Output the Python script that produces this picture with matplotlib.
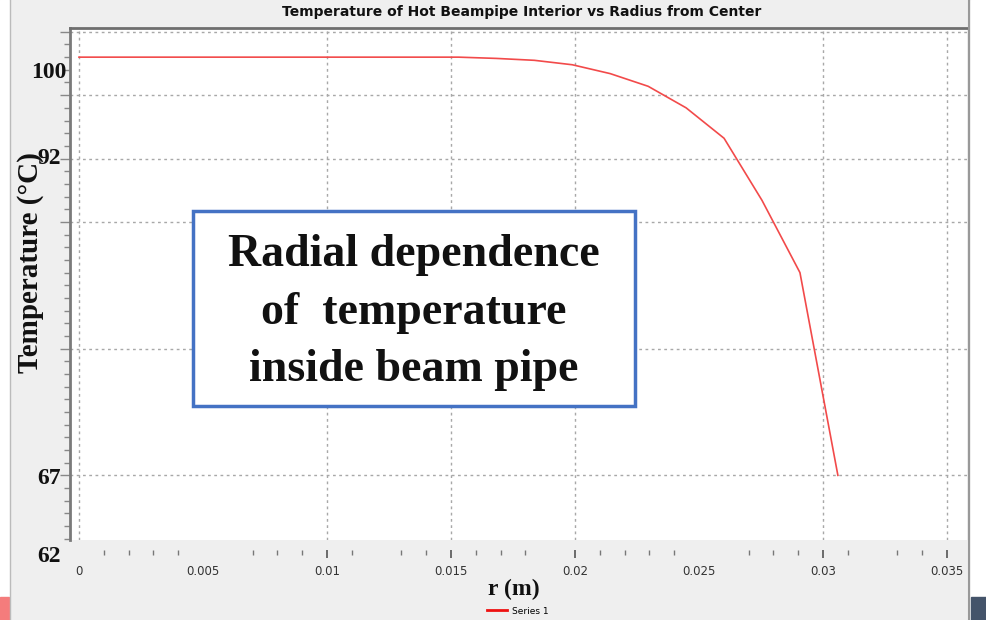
import numpy as np
import matplotlib
matplotlib.use("Agg")
import matplotlib.pyplot as plt
from matplotlib.patches import Rectangle
from matplotlib.lines import Line2D

# data
r_m = [0.0, 0.00153, 0.00306, 0.00459, 0.00612, 0.00765, 0.00918, 0.01071, 0.01224, 0.01377,
       0.0153, 0.01683, 0.01836, 0.01989, 0.02142, 0.02295, 0.02448, 0.02601, 0.02754, 0.02907, 0.0306]
temp_c = [100.0, 100.0, 100.0, 100.0, 100.0, 100.0, 100.0, 100.0, 100.0, 100.0,
          100.0, 99.9, 99.75, 99.4, 98.7, 97.7, 96.0, 93.6, 88.7, 83.0, 67.0]

x_grid = [0.0, 0.01, 0.015, 0.02, 0.03, 0.035]
x_major = [0.01, 0.015, 0.02, 0.03, 0.035]
x_minor = [0.001, 0.002, 0.003, 0.004, 0.007, 0.008, 0.009, 0.011, 0.013, 0.014,
           0.016, 0.017, 0.018, 0.021, 0.022, 0.023, 0.024, 0.027, 0.028, 0.029,
           0.031, 0.033, 0.034]
x_labels = [0, 0.005, 0.01, 0.015, 0.02, 0.025, 0.03, 0.035]
y_grid = [67, 77, 87, 92, 97, 102]
y_minor = [v for v in range(62, 103) if v not in y_grid]
y_labels = ["100", "92", "67", "62"]
y_label_vals = [100, 92, 67, 62]
y_label_shift = [-11, 0, -2, -13]  # points

W, H = 987, 620
fig = plt.figure(figsize=(W / 100, H / 100), dpi=100, facecolor="#efefef")


def fx(px):
    return px / W


def fy(py):
    return 1 - py / H


ax = fig.add_axes([fx(70), fy(540), fx(967) - fx(70), fy(28) - fy(540)])
ax.set_facecolor("white")
ax.set_xlim(-0.000363, 0.035806)
ax.set_ylim(61.9, 102.3)

for g in x_grid:
    ax.axvline(g, color="#a8a8a8", lw=1, ls=(0, (2, 2.5)), zorder=1)
for g in y_grid:
    ax.axhline(g, color="#a8a8a8", lw=1, ls=(0, (2, 2.5)), zorder=1)

ax.plot(r_m, temp_c, color="#f24a4a", lw=1.2, zorder=3, label="Series 1")

# spines
for s in ["right", "bottom"]:
    ax.spines[s].set_visible(False)
ax.spines["top"].set_color("#6e6e6e")
ax.spines["top"].set_linewidth(2)
ax.spines["left"].set_color("#7a7a7a")
ax.spines["left"].set_linewidth(2)
ax.spines["bottom"].set_position(("outward", 7))

ax.set_xticks(x_major)
ax.set_xticks(x_minor, minor=True)
ax.set_xticklabels([])
ax.tick_params(axis="x", which="major", length=6, width=1.2, color="#555555")
ax.tick_params(axis="x", which="minor", length=3.5, width=1, color="#777777")

ax.set_yticks(y_grid)
ax.set_yticks(y_minor, minor=True)
ax.set_yticklabels([])
ax.tick_params(axis="y", which="major", length=7, width=1, color="#888888")
ax.tick_params(axis="y", which="minor", length=4, width=1, color="#888888")

# x tick labels
for v in x_labels:
    ax.annotate(f"{v:g}", xy=(v, 0), xycoords=("data", "axes fraction"),
                xytext=(0, -22.5), textcoords="offset points", ha="center", va="center",
                fontsize=8.5, color="#333333", family="DejaVu Sans", annotation_clip=False)

# overlaid y labels
for txt, v, dy in zip(y_labels, y_label_vals, y_label_shift):
    ax.annotate(txt, xy=(-0.0235, v), xycoords=("axes fraction", "data"),
                xytext=(0, dy), textcoords="offset points", ha="center", va="center",
                fontsize=17, fontweight="bold", family="Liberation Serif",
                color="#111111", annotation_clip=False)

fig.text(fx(31), fy(263), "Temperature (°C)", rotation=90, ha="center", va="center",
         fontsize=21, fontweight="bold", family="Liberation Serif", color="#111111")
fig.text(fx(514), fy(589), "r (m)", ha="center", va="center",
         fontsize=17, fontweight="bold", family="Liberation Serif", color="#111111")
fig.text(fx(522), fy(12), "Temperature of Hot Beampipe Interior vs Radius from Center",
         ha="center", va="center", fontsize=10, fontweight="bold", family="DejaVu Sans",
         color="#111111")

# legend
fig.legend(loc="center", bbox_to_anchor=(fx(518), fy(611)), frameon=False, fontsize=6.5,
           handlelength=2.2, handletextpad=0.6, borderpad=0)
leg = fig.legends[0]
for h in leg.legend_handles:
    h.set_linewidth(2)
    h.set_color("#ee1111")

# text box
fig.add_artist(Rectangle((fx(193), fy(406)), fx(635) - fx(193), fy(211) - fy(406),
                         transform=fig.transFigure, fill=True, facecolor="white",
                         edgecolor="#4472c4", lw=2.5, zorder=5))
fig.text(fx(414), fy(312.5), "Radial dependence\nof  temperature\ninside beam pipe",
         ha="center", va="center", fontsize=33, fontweight="bold",
         family="Liberation Serif", linespacing=1.48, color="#111111", zorder=6)

# window decorations
fig.add_artist(Rectangle((0, 0), fx(9), 1, transform=fig.transFigure, color="white", zorder=0))
fig.add_artist(Line2D([fx(9.5), fx(9.5)], [0, 1], transform=fig.transFigure, color="#bbbbbb", lw=1))
fig.add_artist(Rectangle((fx(971), 0), 1 - fx(971), 1, transform=fig.transFigure, color="white", zorder=0))
fig.add_artist(Line2D([fx(969), fx(969)], [0, 1], transform=fig.transFigure, color="#999999", lw=1.5))
fig.add_artist(Rectangle((0, 0), fx(9), fy(597), transform=fig.transFigure, color="#f47c7c"))
fig.add_artist(Rectangle((fx(971), 0), 1 - fx(971), fy(597), transform=fig.transFigure, color="#44546a"))

fig.savefig("out.png", dpi=100, facecolor=fig.get_facecolor())
